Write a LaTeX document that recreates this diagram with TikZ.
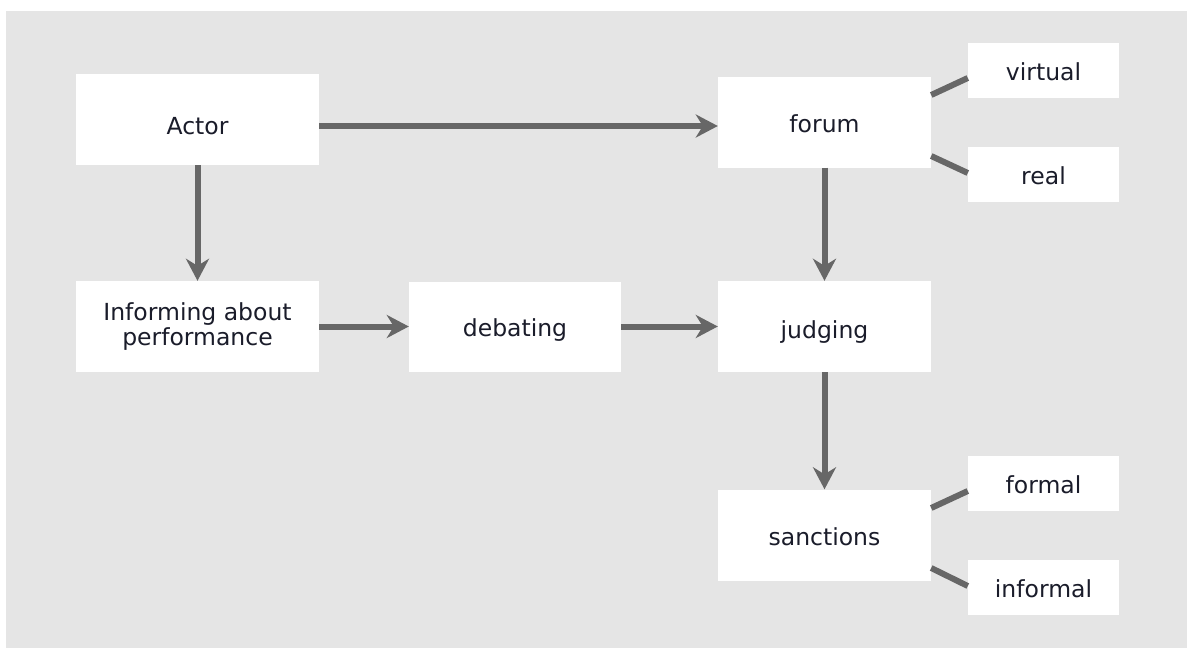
\documentclass[tikz,border=0pt]{standalone}
\usepackage{fontspec}
\setmainfont{DejaVu Sans}
\usetikzlibrary{arrows.meta}
\definecolor{bggray}{HTML}{E5E5E5}
\definecolor{linegray}{HTML}{676767}
\definecolor{txt}{HTML}{1A1C2A}
\tikzset{
  box/.style={fill=white, draw=none, inner sep=0pt, align=center, text=txt,
    font=\fontsize{23.5}{25.5}\selectfont, text height=20pt, text depth=0pt},
  bigbox/.style={box, minimum width=243pt, minimum height=91pt},
  midbox/.style={box, minimum width=213pt, minimum height=91pt},
  smallbox/.style={box, minimum width=151pt, minimum height=55pt},
  flow/.style={draw=linegray, line width=6pt,
    -{Stealth[length=22pt, width=23pt, inset=7pt]}},
  branch/.style={draw=linegray, line width=6pt},
}
\begin{document}
\begin{tikzpicture}[x=1pt, y=-1pt]
\useasboundingbox (0,0) rectangle (1187,648);
\fill[bggray] (6,11) rectangle (1187,648);

\node[bigbox, text height=30pt] (actor) at (197.5,119.5) {Actor};
\node[bigbox, text height=, text depth=] (inform) at (197.5,326.5) {Informing about\\performance};
\node[box, minimum width=212pt, minimum height=90pt] (debate) at (515,326.5) {debating};
\node[midbox] (forum) at (824.5,122) {forum};
\node[midbox, text height=23pt] (judge) at (824.5,326.5) {judging};
\node[midbox] (sanct) at (824.5,535) {sanctions};
\node[smallbox] (virtual) at (1043.5,70.5) {virtual};
\node[smallbox] (real) at (1043.5,174.5) {real};
\node[smallbox] (formal) at (1043.5,483) {formal};
\node[smallbox] (informal) at (1043.5,587.5) {informal};

\draw[flow] ([yshift=-4pt]forum.west -| actor.east) -- ([yshift=-4pt]forum.west);
\draw[flow] (actor.south) -- (actor.south |- inform.north);
\draw[flow] (inform.east) -- (debate.west);
\draw[flow] (debate.east) -- (judge.west);
\draw[flow] (forum.south) -- (judge.north);
\draw[flow] (judge.south) -- (sanct.north);

\draw[branch] ([yshift=27pt]forum.east) -- ([yshift=-7.5pt]virtual.west);
\draw[branch] ([yshift=-34pt]forum.east) -- ([yshift=1.5pt]real.west);
\draw[branch] ([yshift=27pt]sanct.east) -- ([yshift=-8pt]formal.west);
\draw[branch] ([yshift=-33pt]sanct.east) -- ([yshift=1.5pt]informal.west);
\end{tikzpicture}
\end{document}
